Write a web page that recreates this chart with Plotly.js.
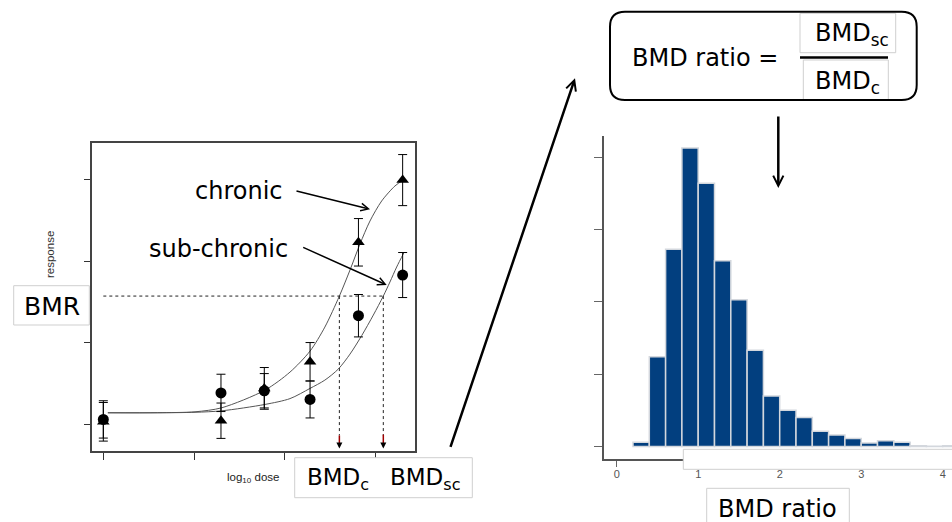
<!DOCTYPE html>
<html>
<head>
<meta charset="utf-8">
<script src="https://cdn.plot.ly/plotly-3.0.1.min.js"></script>
<style>html,body{margin:0;padding:0;background:#fff;}#chart{width:952px;height:522px;}</style>
</head>
<body>
<div id="chart"></div>
<script>
// ---------- dose-response panel data ----------
const doseX = [0, 1.296, 1.773, 2.277, 2.81, 3.297];
const chronicY = [0.037, 0.05, 0.445, 0.77, 2.23, 2.99];
const chronicErr = [0.236, 0.216, 0.255, 0.235, 0.29, 0.312];
const subChronicY = [0.066, 0.39, 0.416, 0.31, 1.333, 1.83];
const subChronicErr = [0.228, 0.228, 0.21, 0.226, 0.259, 0.275];

const chronicCurveX = [0.05, 0.6, 1.01, 1.304, 1.781, 2.056, 2.277, 2.44, 2.6, 2.717, 2.827, 2.937, 3.066, 3.212, 3.304];
const chronicCurveY = [0.147, 0.148, 0.159, 0.208, 0.424, 0.644, 0.901, 1.194, 1.573, 1.891, 2.209, 2.49, 2.735, 2.918, 2.991];
const subCurveX = [0.05, 0.6, 1.01, 1.304, 1.781, 2.056, 2.277, 2.44, 2.588, 2.717, 2.846, 2.974, 3.084, 3.157, 3.231, 3.312];
const subCurveY = [0.147, 0.147, 0.153, 0.171, 0.249, 0.32, 0.445, 0.546, 0.681, 0.864, 1.09, 1.341, 1.573, 1.745, 1.928, 2.105];

const bmr = 1.573;
const bmdC = 2.60;
const bmdSC = 3.084;

const doseTicks = [0, 1, 2, 3];
const respTicks = [0, 1, 2, 3];

// ---------- histogram panel data ----------
const binStart = [0.2, 0.4, 0.6, 0.8, 1.0, 1.2, 1.4, 1.6, 1.8, 2.0, 2.2, 2.4, 2.6, 2.8, 3.0, 3.2, 3.4, 3.6, 3.8, 4.0];
const binCount = [6, 124, 273, 413, 364, 257, 203, 133, 70, 50, 40, 21, 16, 11, 5, 8, 6, 1, 0.5, 1];
const binWidth = 0.2;
const ratioTicks = [0, 1, 2, 3, 4];
const ratioTickText = ['0', '1', '2', '3', '4'];
const countTicks = [0, 100, 200, 300, 400];

// ---------- helpers (pixel -> paper) ----------
const W = 952, H = 522;
const PX = x => x / W;
const PY = y => 1 - y / H;

const FONT = 'DejaVu Sans, Verdana, sans-serif';
const SMALL = 'Liberation Sans, Arial, sans-serif';

const traces = [
  {x: chronicCurveX, y: chronicCurveY, type: 'scatter', mode: 'lines',
   line: {color: '#555', width: 1, shape: 'spline', smoothing: 0.8}, xaxis: 'x', yaxis: 'y', hoverinfo: 'skip'},
  {x: subCurveX, y: subCurveY, type: 'scatter', mode: 'lines',
   line: {color: '#555', width: 1, shape: 'spline', smoothing: 0.8}, xaxis: 'x', yaxis: 'y', hoverinfo: 'skip'},
  {x: doseX, y: chronicY, type: 'scatter', mode: 'markers', name: 'chronic',
   marker: {symbol: 'triangle-up', size: 11, color: '#000'},
   error_y: {type: 'data', array: chronicErr, visible: true, color: '#000', thickness: 1, width: 4.5},
   xaxis: 'x', yaxis: 'y'},
  {x: doseX, y: subChronicY, type: 'scatter', mode: 'markers', name: 'sub-chronic',
   marker: {symbol: 'circle', size: 11, color: '#000'},
   error_y: {type: 'data', array: subChronicErr, visible: true, color: '#000', thickness: 1, width: 4.5},
   xaxis: 'x', yaxis: 'y'},
  {x: binStart, y: binCount, type: 'bar', width: binWidth, offset: 0,
   marker: {color: '#023f7f', line: {color: '#d3d7dd', width: 1.5}},
   xaxis: 'x2', yaxis: 'y2'}
];

function rect(x0, y0, x1, y1, extra) {
  return Object.assign({type: 'rect', xref: 'paper', yref: 'paper',
    x0: PX(x0), x1: PX(x1), y0: PY(y1), y1: PY(y0),
    line: {color: '#cfcfcf', width: 1}, fillcolor: 'rgba(0,0,0,0)', layer: 'above'}, extra || {});
}

function roundRect(x0, y0, x1, y1, r) {
  const X = PX, Y = PY;
  return 'M' + X(x0 + r) + ',' + Y(y0) +
    ' L' + X(x1 - r) + ',' + Y(y0) +
    ' Q' + X(x1) + ',' + Y(y0) + ' ' + X(x1) + ',' + Y(y0 + r) +
    ' L' + X(x1) + ',' + Y(y1 - r) +
    ' Q' + X(x1) + ',' + Y(y1) + ' ' + X(x1 - r) + ',' + Y(y1) +
    ' L' + X(x0 + r) + ',' + Y(y1) +
    ' Q' + X(x0) + ',' + Y(y1) + ' ' + X(x0) + ',' + Y(y1 - r) +
    ' L' + X(x0) + ',' + Y(y0 + r) +
    ' Q' + X(x0) + ',' + Y(y0) + ' ' + X(x0 + r) + ',' + Y(y0) + ' Z';
}

const DASH = {color: '#222', width: 1, dash: '3px,3px'};

const shapes = [
  // BMR dashed line and BMD drop lines (data coords)
  {type: 'line', xref: 'x', yref: 'y', x0: 0, x1: bmdSC, y0: bmr, y1: bmr, line: DASH},
  {type: 'line', xref: 'x', yref: 'y', x0: bmdC, x1: bmdC, y0: bmr, y1: -0.13, line: DASH},
  {type: 'line', xref: 'x', yref: 'y', x0: bmdSC, x1: bmdSC, y0: bmr, y1: -0.13, line: DASH},
  {type: 'line', xref: 'x', yref: 'y', x0: bmdC, x1: bmdC, y0: -0.13, y1: -0.25, line: {color: '#a00000', width: 1.5}},
  {type: 'line', xref: 'x', yref: 'y', x0: bmdSC, x1: bmdSC, y0: -0.12, y1: -0.25, line: {color: '#a00000', width: 1.5}},
  // label boxes
  rect(13.7, 285.7, 89.3, 325, {fillcolor: '#fff'}),
  rect(294.7, 457.7, 472.3, 497.7, {fillcolor: '#fff'}),
  rect(800, 13.3, 895.7, 52.7),
  rect(803.3, 60, 888.3, 100),
  rect(706.7, 488.3, 849.3, 540, {fillcolor: '#fff'}),
  rect(683.3, 449.3, 970, 469.3, {fillcolor: '#fff'}),
  // formula box
  {type: 'path', xref: 'paper', yref: 'paper', path: roundRect(610, 11.7, 916.7, 100, 15), line: {color: '#000', width: 2}},
  // fraction bar
  {type: 'line', xref: 'paper', yref: 'paper', x0: PX(800), x1: PX(888), y0: PY(57.5), y1: PY(57.5), line: {color: '#000', width: 2.7}}
];

function txt(text, x, y, size, anchor, extra) {
  return Object.assign({text: text, xref: 'paper', yref: 'paper', x: PX(x), y: PY(y),
    xanchor: anchor || 'center', yanchor: 'middle', showarrow: false,
    font: {family: FONT, size: size, color: '#000'}}, extra || {});
}

function arrow(hx, hy, tx, ty, width, head, size) {
  return {text: '', xref: 'paper', yref: 'paper', x: PX(hx), y: PY(hy),
    ax: tx - hx, ay: ty - hy, showarrow: true, arrowhead: head, arrowsize: size,
    arrowwidth: width, arrowcolor: '#000', standoff: 0};
}

const annotations = [
  txt('chronic', 239.3, 191, 24),
  txt('sub-chronic', 218.7, 249, 24),
  txt('BMR', 52, 306, 25),
  txt('BMD<sub>c</sub>', 305, 479, 23, 'left'),
  txt('BMD<sub>sc</sub>', 388, 479, 23, 'left'),
  txt('BMD ratio =', 630, 57.5, 24, 'left'),
  txt('BMD<sub>sc</sub>', 813.3, 34, 24, 'left'),
  txt('BMD<sub>c</sub>', 813, 82.5, 24, 'left'),
  txt('BMD ratio', 777.3, 509, 24),
  txt('response', 49.3, 254.7, 11.5, 'center', {textangle: -90, font: {family: SMALL, size: 11.5, color: '#333'}}),
  txt('log<sub>10</sub> dose', 252.5, 478, 11.5, 'center', {font: {family: SMALL, size: 11.5, color: '#222'}}),
  arrow(370, 209.3, 295, 190.7, 1.5, 5, 1),
  arrow(386.7, 285, 301.7, 246.7, 1.5, 5, 1),
  arrow(575, 78.3, 450, 448.3, 2.5, 5, 0.8),
  arrow(778.3, 188, 778.3, 115, 2.5, 5, 0.8),
  {text: '', xref: 'x', yref: 'y', axref: 'x', ayref: 'y', x: bmdC, y: -0.29, ax: bmdC, ay: -0.24,
   showarrow: true, arrowhead: 2, arrowsize: 1.2, arrowwidth: 1, arrowcolor: '#000', standoff: 0},
  {text: '', xref: 'x', yref: 'y', axref: 'x', ayref: 'y', x: bmdSC, y: -0.29, ax: bmdSC, ay: -0.24,
   showarrow: true, arrowhead: 2, arrowsize: 1.2, arrowwidth: 1, arrowcolor: '#000', standoff: 0}
];

const layout = {
  width: W, height: H,
  margin: {l: 0, r: 0, t: 0, b: 0, pad: 0},
  paper_bgcolor: '#fff', plot_bgcolor: 'rgba(0,0,0,0)',
  showlegend: false,
  xaxis: {domain: [PX(91.7), PX(415)], range: [-0.128, 3.433], anchor: 'y',
    tickvals: doseTicks, showticklabels: false, ticks: 'outside', ticklen: 7, tickcolor: '#333', tickwidth: 1,
    showline: true, mirror: true, linecolor: '#444', linewidth: 1.5, showgrid: false, zeroline: false, fixedrange: true},
  yaxis: {domain: [PY(451), PY(142.7)], range: [-0.32, 3.447], anchor: 'x',
    tickvals: respTicks, showticklabels: false, ticks: 'outside', ticklen: 6, tickcolor: '#333', tickwidth: 1,
    showline: true, mirror: true, linecolor: '#444', linewidth: 1.5, showgrid: false, zeroline: false, fixedrange: true},
  xaxis2: {domain: [PX(604), 1], range: [-0.156, 4.114], anchor: 'y2',
    tickvals: ratioTicks, ticktext: ratioTickText, ticks: 'outside', ticklen: 6, tickcolor: '#666', tickwidth: 1,
    tickfont: {family: SMALL, size: 11, color: '#555'}, ticklabelstandoff: -3,
    showline: true, linecolor: '#555', linewidth: 2, showgrid: false, zeroline: false, fixedrange: true},
  yaxis2: {domain: [PY(459.3), PY(136)], range: [-17.7, 429.5], anchor: 'x2',
    tickvals: countTicks, showticklabels: false, ticks: 'outside', ticklen: 8, tickcolor: '#666', tickwidth: 1,
    showline: true, linecolor: '#555', linewidth: 2, showgrid: false, zeroline: false, fixedrange: true},
  bargap: 0,
  shapes: shapes,
  annotations: annotations
};

Plotly.newPlot('chart', traces, layout, {displayModeBar: false, staticPlot: true});
</script>
</body>
</html>
